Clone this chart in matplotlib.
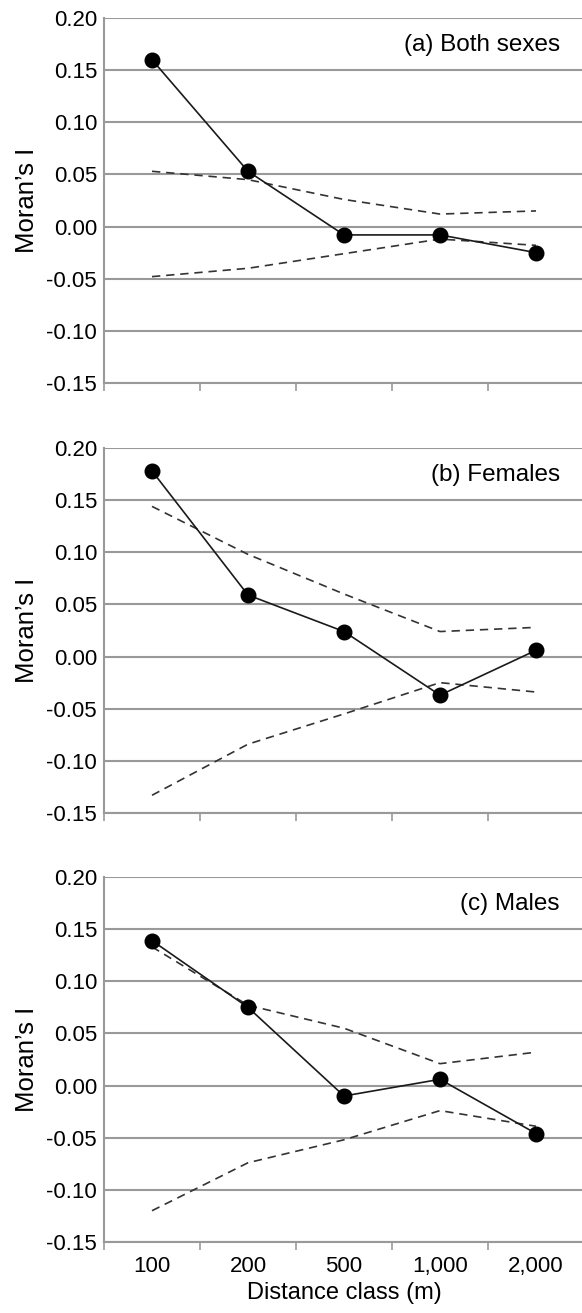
import matplotlib
matplotlib.use("Agg")
import matplotlib.pyplot as plt
import numpy as np

plt.rcParams['font.family'] = ['Liberation Sans', 'DejaVu Sans']

categories = ["100", "200", "500", "1,000", "2,000"]
panel_titles = ["(a) Both sexes", "(b) Females", "(c) Males"]

both_obs = [0.160, 0.053, -0.008, -0.008, -0.025]
both_upper = [0.053, 0.045, 0.026, 0.012, 0.015]
both_lower = [-0.048, -0.040, -0.026, -0.012, -0.018]

fem_obs = [0.178, 0.059, 0.024, -0.037, 0.006]
fem_upper = [0.144, 0.098, 0.060, 0.024, 0.028]
fem_lower = [-0.133, -0.084, -0.055, -0.025, -0.034]

male_obs = [0.139, 0.075, -0.010, 0.006, -0.046]
male_upper = [0.133, 0.077, 0.055, 0.021, 0.032]
male_lower = [-0.120, -0.074, -0.052, -0.024, -0.039]

yticks = [-0.15, -0.10, -0.05, 0.00, 0.05, 0.10, 0.15, 0.20]

series = [
    (both_obs, both_upper, both_lower),
    (fem_obs, fem_upper, fem_lower),
    (male_obs, male_upper, male_lower),
]

W, H = 582, 1313
fig = plt.figure(figsize=(W / 100, H / 100), dpi=100)

tops = [18, 448, 877]
bottoms = [383, 813, 1242]
left_px, right_px = 104, 584
grid_color = "#999999"

x = np.arange(len(categories))
for i, ((obs, up, lo), title) in enumerate(zip(series, panel_titles)):
    ax = fig.add_axes([left_px / W, 1 - bottoms[i] / H,
                       (right_px - left_px) / W, (bottoms[i] - tops[i]) / H])
    ax.set_xlim(-0.5, len(categories) - 0.5)
    ax.set_ylim(-0.15, 0.20)
    ax.set_yticks(yticks)
    ax.set_yticklabels([f"{v:.2f}" for v in yticks], fontsize=16)
    for v in yticks:
        ax.axhline(v, color=grid_color, lw=1.5, zorder=0)
    ax.plot(x, up, ls=(0, (5, 3.5)), color="#333333", lw=1.2, zorder=2)
    ax.plot(x, lo, ls=(0, (5, 3.5)), color="#333333", lw=1.2, zorder=2)
    ax.plot(x, obs, color="#1a1a1a", lw=1.2, marker="o", ms=10.5,
            mfc="black", mec="black", zorder=3)
    for s in ["top", "right"]:
        ax.spines[s].set_visible(False)
    for s in ["left", "bottom"]:
        ax.spines[s].set_color(grid_color)
        ax.spines[s].set_linewidth(1.5)
    ax.set_xticks(np.arange(-0.5, len(categories), 1.0))
    ax.set_xticklabels([])
    ax.tick_params(axis="x", which="major", length=6, width=1.2, color=grid_color)
    ax.tick_params(axis="y", length=0, pad=5, labelsize=16)
    ax.set_xticks(x, minor=True)
    if i == 2:
        ax.set_xticklabels(categories, minor=True, fontsize=16)
        ax.tick_params(axis="x", which="minor", length=0, pad=10)
        ax.set_xlabel("Distance class (m)", fontsize=17, labelpad=4)
    else:
        ax.tick_params(axis="x", which="minor", length=0)
    ax.set_ylabel("Moran\u2019s I", fontsize=18.5, labelpad=5)
    ax.text(0.95, 0.926, title, transform=ax.transAxes, ha="right",
            va="center", fontsize=17.5)

fig.savefig("out.png", dpi=100)
